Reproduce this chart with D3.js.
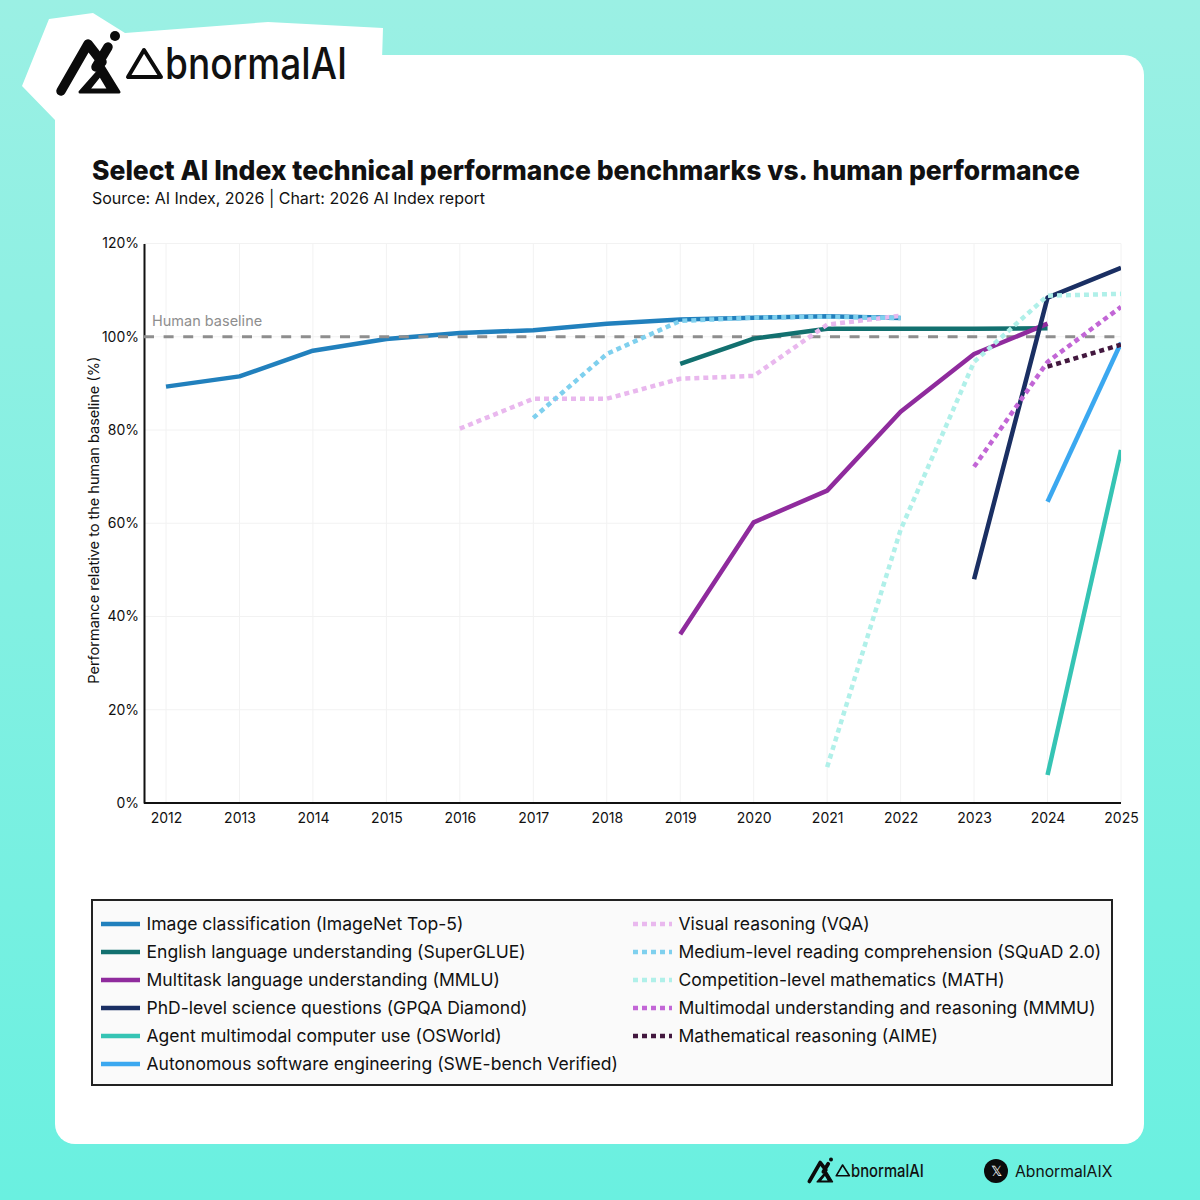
<!DOCTYPE html>
<html lang="en">
<head>
<meta charset="UTF-8">
<title>Select AI Index technical performance benchmarks vs. human performance</title>
<script src="https://d3js.org/d3.v7.min.js"></script>
<style>
  html, body { margin: 0; padding: 0; }
  body { width: 1200px; height: 1200px; overflow: hidden; }
  svg { display: block; }
  text { font-family: Inter, "Noto Sans", sans-serif; fill: #111; }
  .tick text { font-size: 14px; font-family: Inter, sans-serif; fill: #111; }
</style>
</head>
<body>
<svg id="chart" width="1200" height="1200"></svg>
<script>
const years = [2012, 2013, 2014, 2015, 2016, 2017, 2018, 2019, 2020, 2021, 2022, 2023, 2024, 2025];
const yTicks = [0, 20, 40, 60, 80, 100, 120];

const imageNet  = [89.3, 91.5, 97.0, 99.5, 100.8, 101.4, 102.8, 103.7, 104.1, 104.4, 104.0];
const superGlue = [94.2, 99.6, 101.7, 101.7, 101.7, 101.8];
const mmlu      = [36.2, 60.2, 67.0, 83.9, 96.3, 102.8];
const gpqa      = [48.0, 108.4, 114.8];
const osWorld   = [6.0, 75.7];
const sweBench  = [64.6, 98.7];
const vqa       = [80.3, 86.7, 86.7, 91.0, 91.6, 102.6, 104.5];
const squad     = [82.6, 96.3, 103.4, 104.1, 104.3, 104.0];
const mathComp  = [7.7, 58.6, 94.6, 108.8, 109.2];
const mmmu      = [72.1, 94.6, 106.4];
const aime      = [93.6, 98.3];

const series = [
  { name: 'Image classification (ImageNet Top-5)', start: 2012, values: imageNet, color: '#2180bd', dotted: false },
  { name: 'English language understanding (SuperGLUE)', start: 2019, values: superGlue, color: '#12706f', dotted: false },
  { name: 'Multitask language understanding (MMLU)', start: 2019, values: mmlu, color: '#8f2b9d', dotted: false },
  { name: 'PhD-level science questions (GPQA Diamond)', start: 2023, values: gpqa, color: '#1a2f63', dotted: false },
  { name: 'Agent multimodal computer use (OSWorld)', start: 2024, values: osWorld, color: '#35c4b4', dotted: false },
  { name: 'Autonomous software engineering (SWE-bench Verified)', start: 2024, values: sweBench, color: '#3ba8f0', dotted: false },
  { name: 'Visual reasoning (VQA)', start: 2016, values: vqa, color: '#e9b8ee', dotted: true },
  { name: 'Medium-level reading comprehension (SQuAD 2.0)', start: 2017, values: squad, color: '#7fd0ee', dotted: true },
  { name: 'Competition-level mathematics (MATH)', start: 2021, values: mathComp, color: '#b0f0e9', dotted: true },
  { name: 'Multimodal understanding and reasoning (MMMU)', start: 2023, values: mmmu, color: '#c266d6', dotted: true },
  { name: 'Mathematical reasoning (AIME)', start: 2024, values: aime, color: '#43183f', dotted: true }
];

const svg = d3.select('#chart');

// background + card
const defs = svg.append('defs');
const grad = defs.append('linearGradient').attr('id', 'bg').attr('x1', 0).attr('y1', 0).attr('x2', 0).attr('y2', 1);
grad.append('stop').attr('offset', '0%').attr('stop-color', '#9bf0e4');
grad.append('stop').attr('offset', '100%').attr('stop-color', '#6af0e0');
svg.append('rect').attr('width', 1200).attr('height', 1200).attr('fill', 'url(#bg)');
svg.append('rect').attr('x', 55).attr('y', 55).attr('width', 1089).attr('height', 1089).attr('rx', 20).attr('fill', '#fff');

// logo, drawn at its header size and reused smaller in the footer
function drawLogo(g) {
  g.append('path')
    .attr('d', 'M61,91 L88,44 L102,62 M108,47 L96,67')
    .attr('fill', 'none').attr('stroke', '#0b0b0b').attr('stroke-width', 9.5)
    .attr('stroke-linecap', 'round').attr('stroke-linejoin', 'round');
  g.append('path')
    .attr('d', 'M80,92 L103,66 L119,92 Z M88,90 L100,75 L109,90 Z')
    .attr('fill', '#0b0b0b').attr('fill-rule', 'evenodd')
    .attr('stroke', '#0b0b0b').attr('stroke-width', 3)
    .attr('stroke-linejoin', 'round');
  g.append('circle').attr('cx', 115).attr('cy', 36).attr('r', 5).attr('fill', '#0b0b0b');
  g.append('path')
    .attr('d', 'M144,50 L128,77 L161,77 Z')
    .attr('fill', 'none').attr('stroke', '#0b0b0b').attr('stroke-width', 4)
    .attr('stroke-linejoin', 'round');
  const t = g.append('text').attr('y', 79)
    .style('font-size', '44px').style('font-weight', 500);
  t.append('tspan').attr('x', 128).attr('fill-opacity', 0).text('A');
  t.append('tspan').attr('x', 165).attr('textLength', 182).attr('lengthAdjust', 'spacingAndGlyphs').text('bnormalAI');
}

svg.append('path')
  .attr('d', 'M49,19 L93,13 L125,33 L268,22 L383,28 L382,60 L55,120 L22,86 Z')
  .attr('fill', '#fff');
drawLogo(svg.append('g'));
drawLogo(svg.append('g').attr('transform', 'translate(785,1145) scale(0.4)'));

// footer handle
svg.append('circle').attr('cx', 996).attr('cy', 1171).attr('r', 12).attr('fill', '#0b0b0b');
svg.append('text').attr('x', 996).attr('y', 1176).attr('text-anchor', 'middle')
  .style('fill', '#fff').style('font-size', '14px').text('𝕏');
svg.append('text').attr('x', 1015).attr('y', 1177)
  .style('font-size', '15.7px').text('AbnormalAIX');

// titles
svg.append('text').attr('x', 92).attr('y', 180)
  .style('font-size', '27px').style('font-weight', 800)
  .attr('textLength', 988).attr('lengthAdjust', 'spacingAndGlyphs')
  .text('Select AI Index technical performance benchmarks vs. human performance');
svg.append('text').attr('x', 92).attr('y', 204)
  .style('font-size', '16px')
  .text('Source: AI Index, 2026 | Chart: 2026 AI Index report');

// scales
const x = d3.scaleLinear().domain([years[0], years[years.length - 1]]).range([166, 1121]);
const y = d3.scaleLinear().domain([0, 120]).range([803, 243.5]);
const plotLeft = 144;
const plotRight = x.range()[1];

// gridlines
const grid = svg.append('g');
grid.selectAll('line.gx').data(years).enter().append('line').attr('class', 'gx')
  .attr('x1', d => x(d)).attr('x2', d => x(d))
  .attr('y1', y(120)).attr('y2', y(0))
  .attr('stroke', '#f2f2f2').attr('stroke-width', 1);
grid.selectAll('line.gy').data(yTicks).enter().append('line').attr('class', 'gy')
  .attr('x1', plotLeft).attr('x2', plotRight)
  .attr('y1', d => y(d)).attr('y2', d => y(d))
  .attr('stroke', '#f2f2f2').attr('stroke-width', 1);

// axes
svg.append('g').attr('transform', `translate(0,${y(0)})`)
  .call(d3.axisBottom(x).tickValues(years).tickFormat(d3.format('d')).tickSize(0).tickPadding(10))
  .call(g => g.select('.domain').attr('d', `M${plotLeft},0H${plotRight}`).attr('stroke', '#111').attr('stroke-width', 2));
svg.append('g').attr('transform', `translate(${plotLeft},0)`)
  .call(d3.axisLeft(y).tickValues(yTicks).tickFormat(d => d + '%').tickSize(0).tickPadding(5))
  .call(g => g.select('.domain').attr('stroke', '#111').attr('stroke-width', 2));

svg.append('text')
  .attr('transform', `translate(99,${y(60) - 3}) rotate(-90)`)
  .attr('text-anchor', 'middle')
  .style('font-size', '14.5px')
  .text('Performance relative to the human baseline (%)');

// lines
defs.append('clipPath').attr('id', 'plot').append('rect')
  .attr('x', plotLeft).attr('y', 200).attr('width', plotRight - plotLeft).attr('height', 620);

const line = d3.line().x(d => x(d[0])).y(d => y(d[1]));
const plot = svg.append('g').attr('clip-path', 'url(#plot)');

function drawBaseline() {
  plot.append('line')
    .attr('x1', plotLeft).attr('x2', plotRight)
    .attr('y1', y(100)).attr('y2', y(100))
    .attr('stroke', '#8e8e8e').attr('stroke-width', 3).attr('stroke-dasharray', '10 9.6');
}

series.forEach((s, i) => {
  plot.append('path')
    .datum(s.values.map((v, j) => [s.start + j, v]))
    .attr('d', line)
    .attr('fill', 'none')
    .attr('stroke', s.color)
    .attr('stroke-width', 4.5)
    .attr('stroke-linejoin', 'round')
    .attr('stroke-dasharray', s.dotted ? '5 4' : null);
  if (i === 0) drawBaseline();
});

svg.append('text').attr('x', 152).attr('y', 326)
  .style('fill', '#8e8e8e').style('font-size', '14.5px')
  .text('Human baseline');

// legend
const legend = svg.append('g');
legend.append('rect').attr('x', 92).attr('y', 900).attr('width', 1020).attr('height', 185)
  .attr('fill', '#fafafa').attr('stroke', '#222').attr('stroke-width', 2);

const legendItem = legend.selectAll('g.item').data(series).enter().append('g')
  .attr('class', 'item')
  .attr('transform', (d, i) => `translate(${i < 6 ? 101 : 633},${924 + (i < 6 ? i : i - 6) * 28})`);
legendItem.append('line')
  .attr('x1', 0).attr('x2', 39).attr('y1', 0).attr('y2', 0)
  .attr('stroke', d => d.color).attr('stroke-width', 4.5)
  .attr('stroke-dasharray', d => d.dotted ? '5 4' : null);
legendItem.append('text')
  .attr('x', 45.5).attr('y', 6)
  .style('font-size', '17.55px')
  .text(d => d.name);
</script>
</body>
</html>
